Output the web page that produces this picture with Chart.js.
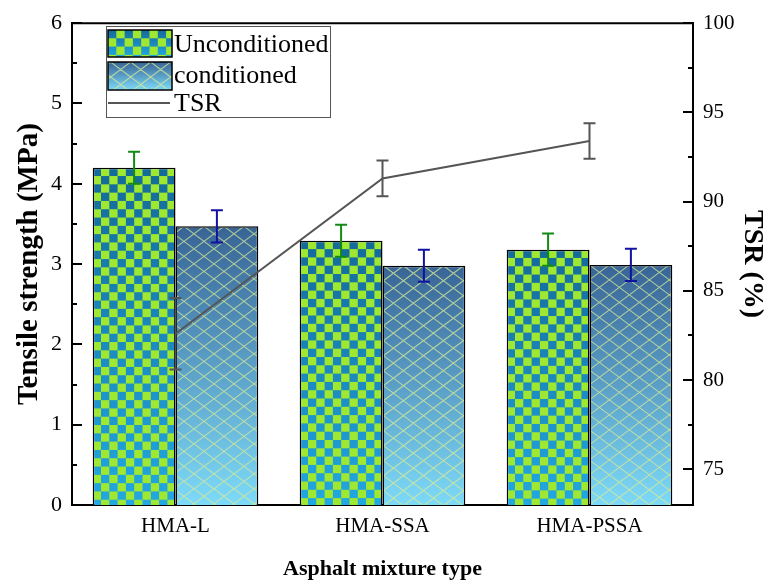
<!DOCTYPE html>
<html lang="en">
<head>
<meta charset="UTF-8">
<title>Tensile strength and TSR</title>
<script src="https://cdn.jsdelivr.net/npm/chart.js@4.4.1/dist/chart.umd.min.js"></script>
<style>
  html, body { margin: 0; padding: 0; background: #fff; }
</style>
</head>
<body>
<canvas id="tsrChart" width="766" height="585"></canvas>

<script>
// Data
const categories = ['HMA-L', 'HMA-SSA', 'HMA-PSSA'];
const unconditioned = [4.20, 3.29, 3.18];
const unconditionedErr = [0.20, 0.20, 0.20];
const conditioned = [3.47, 2.98, 2.99];
const conditionedErr = [0.20, 0.20, 0.20];
const tsr = [82.6, 91.3, 93.4];
const tsrErr = [2.0, 1.0, 1.0];
const tsrTicks = [75, 80, 85, 90, 95, 100];

const SERIF = '"Liberation Serif", "Times New Roman", serif';

// paint the checker / lattice fills into a rectangle
function paintFill(c, kind, x, y, w, h) {
    c.save();
    c.beginPath();
    c.rect(x, y, w, h);
    c.clip();
    const g = c.createLinearGradient(0, y, 0, y + h);
    if (kind === 'checker') {
        g.addColorStop(0, '#146a99');
        g.addColorStop(1, '#22a8e2');
        c.fillStyle = g;
        c.fillRect(x, y, w, h);
        const cell = 8.3;
        c.fillStyle = '#9ee832';
        for (let r = 0; r * cell < h; r++) {
            for (let k = 0; k * cell < w; k++) {
                if ((r + k) % 2 === 1) c.fillRect(x + k * cell, y + r * cell, cell, cell);
            }
        }
    } else {
        g.addColorStop(0, '#386496');
        g.addColorStop(1, '#7ddaf8');
        c.fillStyle = g;
        c.fillRect(x, y, w, h);
        c.strokeStyle = 'rgba(215,235,150,0.75)';
        c.lineWidth = 1.1;
        const step = 20, run = h / 0.75;
        c.beginPath();
        for (let s = -run - step; s < w + run + step; s += step) {
            c.moveTo(x + s, y); c.lineTo(x + s + run, y + h);
            c.moveTo(x + s, y); c.lineTo(x + s - run, y + h);
        }
        c.stroke();
    }
    c.restore();
}

const fillCache = {};
function barFill(kind, values, dsIndex) {
    return function (ctx) {
        const chart = ctx.chart;
        const i = ctx.dataIndex;
        const xs = chart.scales.x, ys = chart.scales.y;
        if (!xs || !ys || i === undefined) return '#2a8cc8';
        const catW = xs.width / categories.length;
        const barW = catW * 0.8 / 2;
        const left = xs.getPixelForValue(i) - catW * 0.4 + dsIndex * barW;
        const top = ys.getPixelForValue(values[i]);
        const bottom = ys.getPixelForValue(0);
        if (![left, top, bottom, barW].every(Number.isFinite) || bottom <= top) return '#2a8cc8';
        const key = [kind, i, Math.round(left), Math.round(top), chart.width, chart.height].join('|');
        if (!fillCache[key]) {
            const cv = document.createElement('canvas');
            cv.width = chart.width;
            cv.height = chart.height;
            paintFill(cv.getContext('2d'), kind, left, top, barW, bottom - top);
            fillCache[key] = chart.ctx.createPattern(cv, 'no-repeat');
        }
        return fillCache[key];
    };
}

// error bars, drawn right after each dataset
const errorBars = {
    id: 'errorBars',
    afterDatasetDraw(chart, args) {
        const ds = chart.data.datasets[args.index];
        if (!ds.errors) return;
        const meta = args.meta;
        const sc = chart.scales[meta.yAxisID];
        const c = chart.ctx;
        c.save();
        c.strokeStyle = ds.errorColor;
        c.lineWidth = 2;
        meta.data.forEach((el, i) => {
            const hi = sc.getPixelForValue(ds.data[i] + ds.errors[i]);
            const lo = sc.getPixelForValue(ds.data[i] - ds.errors[i]);
            c.beginPath();
            c.moveTo(el.x, hi); c.lineTo(el.x, lo);
            c.moveTo(el.x - 6, hi); c.lineTo(el.x + 6, hi);
            c.moveTo(el.x - 6, lo); c.lineTo(el.x + 6, lo);
            c.stroke();
        });
        c.restore();
    }
};

// top frame line and inward ticks
const frameTicks = {
    id: 'frameTicks',
    afterDraw(chart) {
        const c = chart.ctx, a = chart.chartArea;
        const y = chart.scales.y, y1 = chart.scales.y1;
        c.save();
        c.strokeStyle = '#000';
        c.lineWidth = 2;
        c.beginPath();
        c.moveTo(a.left - 1, a.top); c.lineTo(a.right + 1, a.top);
        for (let v = 0; v <= 6; v += 0.5) {
            const p = Math.round(y.getPixelForValue(v));
            const len = Number.isInteger(v) ? 10 : 5;
            c.moveTo(a.left, p); c.lineTo(a.left + len, p);
        }
        for (let v = 75; v <= 100; v += 2.5) {
            const p = Math.round(y1.getPixelForValue(v));
            const len = v % 5 === 0 ? 10 : 5;
            c.moveTo(a.right, p); c.lineTo(a.right - len, p);
        }
        c.stroke();
        c.restore();
    }
};

// legend box inside the plot
const boxLegend = {
    id: 'boxLegend',
    afterDraw(chart) {
        const c = chart.ctx;
        c.save();
        c.strokeStyle = '#555';
        c.lineWidth = 1;
        c.strokeRect(106.5, 26.5, 224, 91);
        paintFill(c, 'checker', 108, 30, 64, 27);
        paintFill(c, 'lattice', 108, 62, 64, 28);
        c.strokeStyle = '#000';
        c.lineWidth = 1.5;
        c.strokeRect(108, 30, 64, 27);
        c.strokeRect(108, 62, 64, 28);
        c.strokeStyle = '#555';
        c.lineWidth = 2;
        c.beginPath();
        c.moveTo(108, 103); c.lineTo(170, 103);
        c.stroke();
        c.fillStyle = '#000';
        c.font = '26px ' + SERIF;
        c.textBaseline = 'middle';
        c.fillText('Unconditioned', 174, 45);
        c.fillText('conditioned', 174, 76);
        c.fillText('TSR', 174, 104);
        c.restore();
    }
};

const ctx = document.getElementById('tsrChart').getContext('2d');
const tsrChart = new Chart(ctx, {
    data: {
        labels: categories,
        datasets: [
            {
                type: 'bar',
                label: 'Unconditioned',
                data: unconditioned,
                errors: unconditionedErr,
                errorColor: '#138a13',
                backgroundColor: barFill('checker', unconditioned, 0),
                borderColor: '#000',
                borderWidth: 1.5,
                yAxisID: 'y',
                order: 1,
                categoryPercentage: 0.8,
                barPercentage: 1.0
            },
            {
                type: 'bar',
                label: 'conditioned',
                data: conditioned,
                errors: conditionedErr,
                errorColor: '#1212a0',
                backgroundColor: barFill('lattice', conditioned, 1),
                borderColor: '#000',
                borderWidth: 1.5,
                yAxisID: 'y',
                order: 1,
                categoryPercentage: 0.8,
                barPercentage: 1.0
            },
            {
                type: 'line',
                label: 'TSR',
                data: tsr,
                errors: tsrErr,
                errorColor: '#555',
                borderColor: '#555',
                borderWidth: 2,
                pointRadius: 0,
                tension: 0,
                fill: false,
                yAxisID: 'y1',
                order: 0
            }
        ]
    },
    options: {
        responsive: false,
        animation: false,
        layout: { padding: { top: 22, left: 0, right: 0, bottom: 0 } },
        plugins: {
            legend: { display: false },
            tooltip: { enabled: false }
        },
        scales: {
            x: {
                type: 'category',
                offset: true,
                grid: { display: false, drawTicks: false },
                border: { display: true, color: '#000', width: 2 },
                ticks: { color: '#000', padding: 9, font: { family: SERIF, size: 21 } },
                title: {
                    display: true,
                    text: 'Asphalt mixture type',
                    color: '#000',
                    padding: { top: 0, bottom: 2 },
                    font: { family: SERIF, size: 22, weight: 'bold' }
                },
                afterFit(scale) { scale.height = 80; }
            },
            y: {
                position: 'left',
                min: 0,
                max: 6,
                ticks: { stepSize: 1, color: '#000', padding: 10, font: { family: SERIF, size: 22 } },
                grid: { display: false, drawTicks: false },
                border: { display: true, color: '#000', width: 2 },
                title: {
                    display: true,
                    text: 'Tensile strength (MPa)',
                    color: '#000',
                    padding: { top: 15, bottom: 0 },
                    font: { family: SERIF, size: 29, weight: 'bold', lineHeight: 1 }
                },
                afterFit(scale) { scale.width = 72; }
            },
            y1: {
                position: 'right',
                min: 73,
                max: 100,
                ticks: { color: '#000', padding: 10, font: { family: SERIF, size: 21 } },
                afterBuildTicks(scale) { scale.ticks = tsrTicks.map(v => ({ value: v })); },
                grid: { display: false, drawTicks: false },
                border: { display: true, color: '#000', width: 2 },
                title: {
                    display: true,
                    text: 'TSR (%)',
                    color: '#000',
                    padding: { top: 0, bottom: 0 },
                    font: { family: SERIF, size: 28, weight: 'bold', lineHeight: 1 }
                },
                afterFit(scale) { scale.width = 73; }
            }
        }
    },
    plugins: [errorBars, frameTicks, boxLegend]
});
</script>
</body>
</html>
